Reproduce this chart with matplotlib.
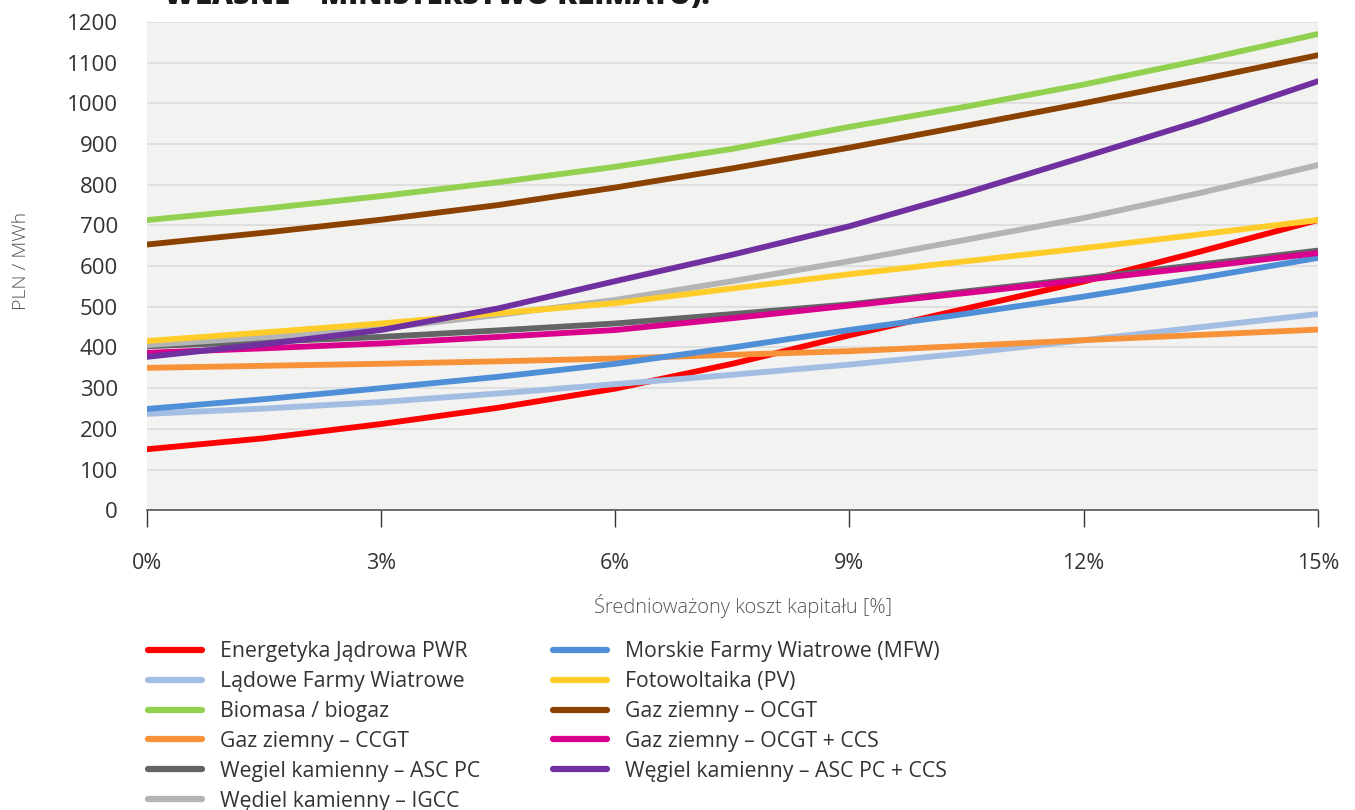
import matplotlib.pyplot as plt
from matplotlib.lines import Line2D

plt.rcParams['font.family'] = ['Open Sans', 'DejaVu Sans']

# stopa dyskonta [%]
wacc = [0, 1.5, 3, 4.5, 6, 7.5, 9, 10.5, 12, 13.5, 15]
x_ticks = [0, 3, 6, 9, 12, 15]
x_tick_labels = ['0%', '3%', '6%', '9%', '12%', '15%']
y_ticks = list(range(0, 1201, 100))

# LCOE [PLN/MWh]
pwr = [150, 177, 212, 252, 299, 360, 430, 496, 562, 636, 713]
ladowe = [237, 250, 266, 287, 310, 333, 358, 386, 418, 450, 482]
biomasa = [713, 741, 772, 806, 844, 888, 942, 992, 1046, 1106, 1170]
ccgt = [350, 355, 360, 366, 373, 382, 391, 404, 418, 431, 444]
asc_pc = [403, 414, 426, 442, 459, 482, 506, 538, 570, 604, 638]
igcc = [406, 425, 447, 480, 517, 563, 612, 665, 718, 780, 848]
mfw = [249, 273, 300, 328, 360, 400, 443, 483, 525, 571, 620]
pv = [416, 437, 459, 484, 509, 545, 580, 612, 644, 678, 713]
ocgt = [653, 682, 714, 750, 793, 840, 891, 945, 1000, 1058, 1118]
ocgt_ccs = [387, 398, 410, 426, 443, 472, 503, 534, 566, 598, 632]
asc_pc_ccs = [377, 408, 443, 496, 563, 628, 698, 780, 868, 957, 1054]

series = [
    ('Energetyka Jądrowa PWR', pwr, '#ff0000'),
    ('Lądowe Farmy Wiatrowe', ladowe, '#a3bde3'),
    ('Biomasa / biogaz', biomasa, '#92d050'),
    ('Gaz ziemny – CCGT', ccgt, '#f79238'),
    ('Wegiel kamienny – ASC PC', asc_pc, '#636466'),
    ('Wędiel kamienny – IGCC', igcc, '#b2b4b6'),
    ('Morskie Farmy Wiatrowe (MFW)', mfw, '#4f8fd8'),
    ('Fotowoltaika (PV)', pv, '#ffcc29'),
    ('Gaz ziemny – OCGT', ocgt, '#8b4200'),
    ('Gaz ziemny – OCGT + CCS', ocgt_ccs, '#d9008d'),
    ('Węgiel kamienny – ASC PC + CCS', asc_pc_ccs, '#7030a0'),
]

# kolejnosc rysowania (co jest na wierzchu)
draw_order = [1, 6, 0, 3, 9, 4, 10, 5, 7, 8, 2]

fig = plt.figure(figsize=(13.55, 8.1), dpi=100)
ax = fig.add_axes([0.1085, 0.370, 0.864, 0.603])
ax.set_facecolor('#f2f2f0')

for i in draw_order:
    name, vals, col = series[i]
    ax.plot(wacc, vals, color=col, lw=4.2, solid_capstyle='round', solid_joinstyle='round', zorder=3 + i * 0.01)

ax.set_xlim(0, 15)
ax.set_ylim(0, 1200)
ax.set_yticks(y_ticks)
ax.set_yticklabels([str(v) for v in y_ticks])
ax.set_xticks(x_ticks)
ax.set_xticklabels(x_tick_labels)
ax.yaxis.grid(True, color='#dcdcdc', lw=1.2)
ax.set_axisbelow(True)
for s in ['top', 'right', 'left']:
    ax.spines[s].set_visible(False)
ax.spines['bottom'].set_color('#555555')
ax.spines['bottom'].set_linewidth(1.2)
ax.tick_params(axis='y', length=0, pad=21, labelsize=16, labelcolor='#333333')
ax.tick_params(axis='x', length=12, width=1, color='#333333', pad=19, labelsize=15.5, labelcolor='#333333')

ax.set_ylabel('PLN / MWh', fontsize=14, color='#555555', fontweight='light')
ax.yaxis.set_label_coords(-0.1, 0.51)
ax.set_xlabel('Średnioważony koszt kapitału [%]', fontsize=14.5, color='#555555', fontweight='light')
ax.xaxis.set_label_coords(0.509, -0.172)

# tytul uciety u gory (tak jak w oryginale)
fig.text(0.121, 1 - 4 / 810, 'WŁASNE – MINISTERSTWO KLIMATU).', fontsize=21, fontweight='heavy',
         color='#1a1a1a', va='baseline', ha='left')

handles = [Line2D([0], [0], color=c, lw=4.5, solid_capstyle='round') for _, _, c in series]
labels = [n for n, _, _ in series]
fig.legend(handles, labels, ncol=2, loc='upper left', bbox_to_anchor=(0.103, 0.219), frameon=False,
           fontsize=15.3, labelcolor='#333333', handlelength=2.55, handletextpad=0.82,
           columnspacing=3.45, labelspacing=0.42, borderaxespad=0)

fig.savefig('out.png', dpi=100)
